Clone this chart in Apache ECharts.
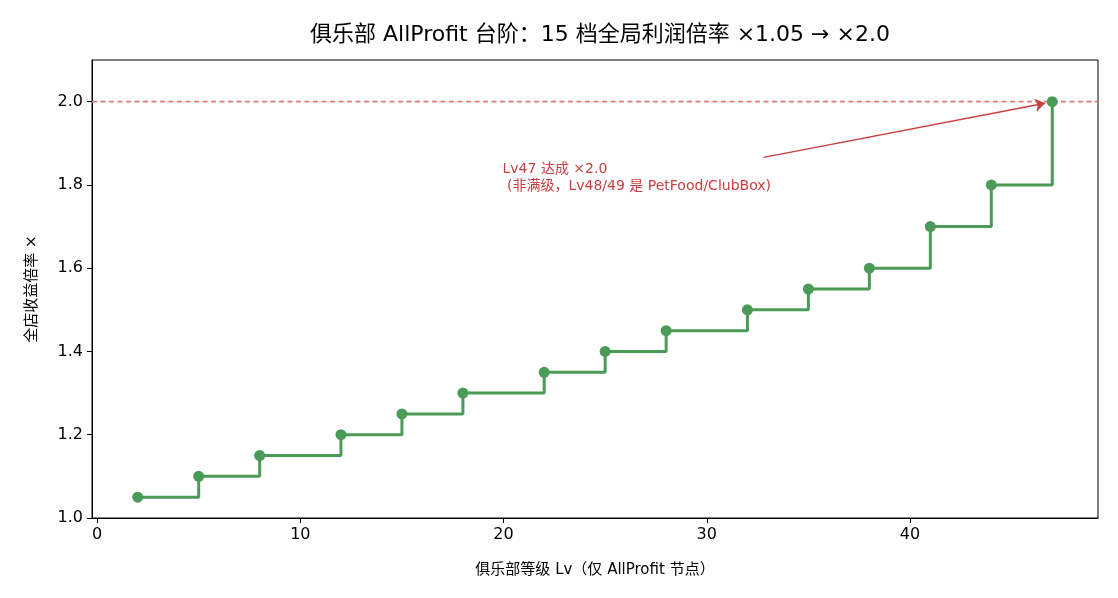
<!DOCTYPE html>
<html>
<head>
<meta charset="utf-8">
<script src="https://cdn.jsdelivr.net/npm/echarts@6/dist/echarts.min.js"></script>
<style>
  html, body { margin: 0; padding: 0; background: #fff; }
  #chart { width: 1118px; height: 598px; }
</style>
</head>
<body>
<div id="chart"></div>
<script>
// 俱乐部等级（AllProfit 节点）
const levels = [2, 5, 8, 12, 15, 18, 22, 25, 28, 32, 35, 38, 41, 44, 47];
// 全店收益倍率
const multipliers = [1.05, 1.10, 1.15, 1.20, 1.25, 1.30, 1.35, 1.40, 1.45, 1.50, 1.55, 1.60, 1.70, 1.80, 2.00];
const xTicks = [0, 10, 20, 30, 40];
const yTicks = [1.0, 1.2, 1.4, 1.6, 1.8, 2.0];
const xRange = [-0.25, 49.25];
const targetValue = 2.0;
const noteLines = ["Lv47 达成 ×2.0", " (非满级，Lv48/49 是 PetFood/ClubBox)"];

const latin = "DejaVu Sans, Noto Sans CJK SC, sans-serif";
const green = "#4a9a58";
const red = "#c94040";

const chart = echarts.init(document.getElementById("chart"), null, { renderer: "canvas" });

const option = {
  animation: false,
  title: {
    text: "俱乐部 AllProfit 台阶：15 档全局利润倍率 ×1.05 → ×2.0",
    left: 595,
    top: 19,
    textAlign: "center",
    textStyle: { fontFamily: latin, fontSize: 22, fontWeight: "normal", color: "#000" },
  },
  grid: {
    left: 92,
    right: 20,
    top: 60,
    bottom: 80,
    show: true,
    borderColor: "#000",
    borderWidth: 1,
    containLabel: false,
  },
  xAxis: {
    type: "value",
    min: xRange[0],
    max: xRange[1],
    name: "俱乐部等级 Lv（仅 AllProfit 节点）",
    nameLocation: "middle",
    nameGap: 45,
    nameTextStyle: { fontFamily: latin, fontSize: 15, color: "#000" },
    axisLine: { show: true, onZero: false, lineStyle: { color: "#000", width: 1 } },
    axisTick: { show: true, length: 5, lineStyle: { color: "#000" }, customValues: xTicks },
    axisLabel: { fontFamily: latin, fontSize: 16, color: "#000", margin: 9, customValues: xTicks },
    splitLine: { show: false },
  },
  yAxis: {
    type: "value",
    min: 1.0,
    max: 2.1,
    name: "全店收益倍率 ×",
    nameLocation: "middle",
    nameGap: 52,
    nameTextStyle: { fontFamily: latin, fontSize: 15, color: "#000" },
    axisLine: { show: true, onZero: false, lineStyle: { color: "#000", width: 1 } },
    axisTick: { show: true, length: 5, lineStyle: { color: "#000" }, customValues: yTicks },
    axisLabel: {
      fontFamily: latin,
      fontSize: 16,
      color: "#000",
      margin: 9,
      customValues: yTicks,
      formatter: (v) => v.toFixed(1),
    },
    splitLine: { show: false },
  },
  series: [
    {
      // 目标线 ×2.0
      type: "line",
      data: xRange.map((x) => [x, targetValue]),
      symbol: "none",
      silent: true,
      lineStyle: { color: "#e07a78", type: [5, 3.5], width: 1.6 },
      emphasis: { disabled: true },
      z: 1,
    },
    {
      type: "line",
      step: "end",
      data: levels.map((lv, i) => [lv, multipliers[i]]),
      symbol: "circle",
      symbolSize: 11,
      showAllSymbol: true,
      lineStyle: { color: green, width: 3 },
      itemStyle: { color: green },
      z: 3,
    },
    {
      // 注释箭头与文字
      type: "line",
      data: [],
      markLine: {
        silent: true,
        symbol: "none",
        label: { show: false },
        data: [
          [
            {
              coord: [32.8, 1.866],
              symbol: "none",
              lineStyle: { color: red, type: "solid", width: 1.4, opacity: 1 },
            },
            { coord: [46.65, 1.996], symbol: "arrow", symbolSize: 10 },
          ],
        ],
      },
      markPoint: {
        silent: true,
        symbol: "circle",
        symbolSize: 0,
        data: [{ coord: [19.95, 1.816] }],
        label: {
          show: true,
          position: "right",
          distance: 0,
          align: "left",
          formatter: noteLines.join("\n"),
          fontFamily: latin,
          fontSize: 14,
          lineHeight: 17,
          color: red,
        },
      },
    },
  ],
};

chart.setOption(option);
</script>
</body>
</html>
